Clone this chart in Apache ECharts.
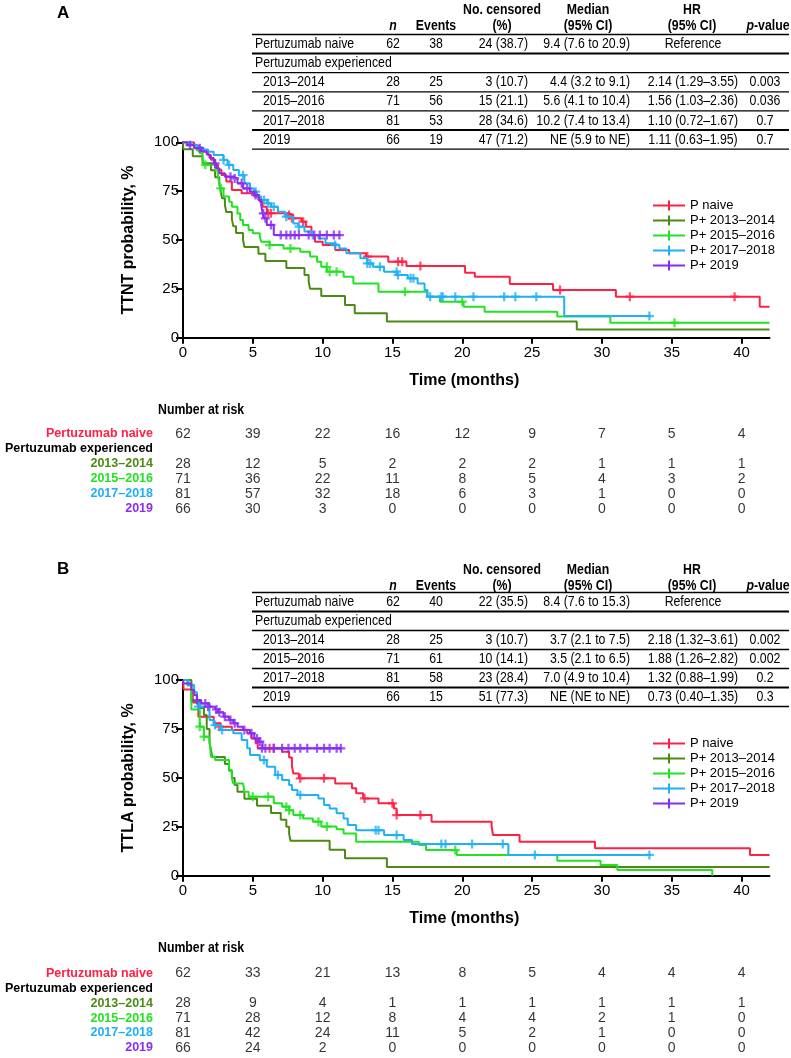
<!DOCTYPE html>
<html><head><meta charset="utf-8">
<script src="https://cdn.jsdelivr.net/npm/echarts@6/dist/echarts.min.js"></script>
<style>html,body{margin:0;padding:0;background:#fff}#c{width:791px;height:1058px}</style>
</head><body><div id="c"></div>
<script>
// ---------- data ----------
const timeTicks = [0, 5, 10, 15, 20, 25, 30, 35, 40];
const probTicks = [0, 25, 50, 75, 100];
const groupNames = ['P naive', 'P+ 2013–2014', 'P+ 2015–2016', 'P+ 2017–2018', 'P+ 2019'];
const groupColors = ['#ff2045', '#4b8b13', '#22e322', '#1fb0f6', '#8a2cf2'];

// Panel A (TTNT) step curves [months, %]
const A_naive = [[0,100],[0.8,98.4],[1.1,96.8],[1.4,95.2],[1.8,93.5],[2.0,91.1],[2.3,88.5],[2.5,85.9],[2.75,83.3],[3.1,80.0],[3.5,75.6],[4.2,73.9],[5.1,72.2],[5.5,69.6],[5.7,67.0],[6.0,63.7],[7.5,62.8],[7.9,61.1],[8.5,59.4],[8.8,56.8],[9.2,52.5],[9.45,49.1],[10.0,47.4],[10.9,44.9],[11.9,43.2],[13.1,41.5],[14.7,38.9],[16.0,36.7],[20.2,33.3],[20.9,31.2],[23.4,27.5],[26.5,24.4],[31.0,21.0],[41.3,15.9],[42,15.9]];
const A_1314 = [[0,100],[0.02,96.4],[0.7,92.9],[1.4,89.3],[2.0,85.7],[2.3,82.1],[2.6,78.6],[2.7,75.0],[2.8,71.4],[3.0,67.9],[3.1,64.3],[3.5,60.7],[3.6,57.1],[3.8,53.6],[4.3,50.0],[4.4,46.4],[5.4,42.9],[5.9,39.3],[7.4,35.7],[8.7,32.1],[9.0,28.6],[9.1,25.0],[9.9,21.4],[11.6,16.7],[12.3,12.5],[14.6,8.3],[28.2,4.2],[42,4.2]];
const A_1516 = [[0,100],[0.4,98.6],[0.8,97.2],[1.0,95.8],[1.2,94.4],[1.4,91.5],[1.5,88.5],[2.3,85.6],[2.5,82.4],[2.6,79.5],[2.7,76.4],[2.9,72.2],[3.3,69.6],[3.5,67.0],[3.9,63.6],[4.1,60.2],[4.3,57.7],[4.7,55.1],[5.0,53.4],[5.5,51.7],[5.6,49.1],[6.2,47.4],[7.2,45.7],[8.4,44.0],[9.1,41.5],[9.6,38.9],[9.9,36.3],[10.3,33.8],[11.5,31.2],[12.2,27.8],[14.0,23.5],[17.5,21.0],[18.4,18.4],[20.1,15.9],[21.6,13.3],[26.8,10.8],[30.6,7.7],[42,7.7]];
const A_1718 = [[0,100],[0.6,98.8],[1.0,97.5],[1.4,96.3],[1.8,95.1],[2.2,93.5],[2.9,91.0],[3.2,88.4],[3.6,85.8],[4.0,83.2],[4.4,79.0],[4.8,76.4],[5.1,74.7],[5.3,72.2],[5.6,70.5],[6.0,68.8],[6.3,67.0],[6.8,64.5],[7.3,61.9],[7.9,58.5],[8.25,56.8],[8.7,54.3],[9.2,52.5],[9.7,50.8],[10.2,48.3],[10.8,47.4],[11.2,45.7],[11.7,43.2],[12.7,40.6],[13.2,38.0],[13.6,36.3],[14.4,33.8],[15.3,32.1],[16.1,30.4],[16.8,27.8],[17.3,24.4],[17.5,21.0],[27.3,11.1],[33.5,11.1]];
const A_2019 = [[0,100],[0.3,98.5],[0.8,97.0],[1.3,95.4],[1.7,93.8],[1.9,92.0],[2.2,89.2],[2.4,86.7],[2.6,84.1],[3.0,82.4],[3.6,81.5],[3.9,79.0],[4.3,76.4],[4.8,74.7],[5.1,73.0],[5.4,70.5],[5.6,67.9],[5.7,63.6],[5.8,61.1],[6.0,57.7],[6.5,52.5],[11.3,52.5]];
// Panel A censor marks
const A_naive_c = [[6.1,63.7],[6.3,63.7],[7.6,62.8],[7.8,61.1],[8.6,59.4],[13.2,41.5],[15.4,38.9],[15.7,38.9],[17.0,36.7],[27.0,24.4],[32.0,21.0],[39.5,21.0]];
const A_1314_c = [];
const A_1516_c = [[1.6,88.5],[2.7,76.4],[6.2,47.4],[7.7,45.7],[10.3,36.3],[10.5,33.8],[11.0,33.8],[15.9,23.5],[20.0,18.4],[35.2,7.7]];
const A_1718_c = [[2.9,91.0],[3.3,88.4],[4.3,83.2],[5.2,74.7],[5.8,70.5],[6.1,68.8],[6.5,67.0],[7.4,61.9],[8.3,56.8],[9.3,52.5],[10.9,47.4],[13.2,38.0],[13.4,38.0],[14.1,36.3],[15.3,33.8],[15.4,32.1],[16.3,30.4],[16.5,30.4],[17.7,21.0],[18.5,21.0],[18.6,21.0],[19.5,21.0],[20.8,21.0],[23.0,21.0],[23.8,21.0],[25.3,21.0],[33.4,11.1]];
const A_2019_c = [[0.5,98.5],[1.2,97.0],[2.3,89.2],[3.4,82.4],[3.7,81.5],[4.2,79.0],[4.6,76.4],[5.2,73.0],[5.75,63.6],[5.9,61.1],[6.3,57.7],[7.0,52.5],[7.4,52.5],[7.7,52.5],[8.0,52.5],[8.3,52.5],[9.0,52.5],[9.4,52.5],[9.8,52.5],[10.3,52.5],[10.8,52.5],[11.2,52.5]];

// Panel B (TTLA) step curves
const B_naive = [[0,100],[0.05,95.2],[0.7,88.6],[1.1,81.3],[2.2,77.9],[2.7,76.2],[3.5,74.5],[4.6,72.8],[4.9,70.2],[5.2,67.7],[5.35,65.1],[7.1,63.4],[7.6,60.4],[7.8,56.0],[7.9,52.3],[8.3,49.8],[10.9,47.2],[12.1,44.7],[12.4,42.1],[12.9,39.5],[14.0,37.0],[15.1,34.4],[15.3,31.0],[17.8,27.6],[22.1,25.1],[22.2,20.8],[24.1,17.4],[29.5,14.0],[40.6,10.6],[42,10.6]];
const B_1314 = [[0,100],[0.6,89.3],[1.2,85.7],[1.5,82.1],[1.7,75.0],[1.9,67.9],[2.0,64.3],[2.1,60.7],[3.0,57.1],[3.3,53.6],[3.5,50.0],[3.7,46.4],[3.9,42.9],[4.4,39.3],[5.3,35.7],[6.3,32.1],[7.0,28.6],[7.4,25.0],[7.6,21.4],[7.7,17.9],[10.5,13.3],[11.6,8.9],[14.6,4.4],[42,4.4]];
const B_1516 = [[0,100],[0.3,97.2],[0.6,85.0],[1.2,76.2],[1.5,71.1],[1.9,69.4],[2.0,60.8],[2.3,59.1],[3.3,54.0],[3.5,49.8],[3.6,47.2],[4.3,46.4],[4.4,42.9],[4.7,40.4],[6.5,37.0],[7.1,35.3],[7.6,33.5],[7.9,31.0],[8.6,29.3],[9.3,27.6],[9.9,25.1],[11.0,23.7],[11.5,21.6],[12.4,17.4],[16.9,15.7],[17.4,13.1],[19.6,10.6],[26.8,7.7],[29.9,5.5],[31.1,2.9],[37.9,0]];
const B_1718 = [[0,100],[0.4,97.5],[0.8,93.8],[1.0,88.1],[1.2,86.4],[1.9,79.6],[2.2,77.0],[2.7,74.5],[3.6,72.8],[4.2,69.4],[4.6,65.1],[4.8,61.7],[5.5,59.1],[6.0,55.7],[6.6,51.5],[7.1,48.9],[7.6,46.4],[7.8,43.8],[8.2,41.3],[9.7,39.5],[10.1,36.1],[10.5,34.4],[11.0,31.9],[11.5,29.3],[11.8,25.9],[12.4,23.3],[14.4,20.8],[15.8,18.2],[16.4,16.2],[23.3,10.6],[33.5,10.6]];
const B_2019 = [[0,100],[0.05,98.3],[0.6,94.9],[0.8,92.4],[1.0,89.8],[1.3,88.1],[1.9,86.4],[2.3,85.0],[2.5,83.5],[2.9,81.3],[3.3,79.6],[3.6,77.9],[3.9,76.2],[4.3,74.5],[4.8,72.8],[5.1,70.2],[5.4,68.5],[5.7,65.1],[11.4,65.1]];
const B_naive_c = [[2.6,76.2],[6.2,65.1],[6.5,65.1],[8.4,49.8],[10.1,49.8],[13.0,39.5],[15.0,37.0],[15.3,31.0],[17.0,31.0]];
const B_1314_c = [];
const B_1516_c = [[1.2,76.2],[1.5,71.1],[5.0,40.4],[6.1,40.4],[7.4,35.3],[7.6,33.5],[8.4,31.0],[9.7,27.6],[10.3,25.1],[19.5,13.1]];
const B_1718_c = [[1.1,86.4],[2.3,77.0],[2.8,74.5],[5.8,59.1],[6.8,51.5],[8.4,41.3],[13.8,23.3],[14.0,23.3],[15.3,20.8],[18.5,16.2],[18.8,16.2],[20.7,16.2],[22.9,16.2],[25.2,10.6],[33.4,10.6]];
const B_2019_c = [[1.0,89.8],[1.6,88.1],[1.8,86.4],[2.4,85.0],[2.6,83.5],[3.0,81.3],[3.4,79.6],[3.7,77.9],[4.4,74.5],[4.9,72.8],[5.3,70.2],[5.5,68.5],[5.65,65.1],[5.9,65.1],[6.5,65.1],[7.1,65.1],[7.55,65.1],[8.0,65.1],[8.4,65.1],[8.9,65.1],[9.6,65.1],[10.1,65.1],[10.5,65.1],[11.0,65.1],[11.3,65.1]];

// Number at risk
const riskRowLabels = ['Pertuzumab naive', 'Pertuzumab experienced', '2013–2014', '2015–2016', '2017–2018', '2019'];
const riskA_naive = [62, 39, 22, 16, 12, 9, 7, 5, 4];
const riskA_1314 = [28, 12, 5, 2, 2, 2, 1, 1, 1];
const riskA_1516 = [71, 36, 22, 11, 8, 5, 4, 3, 2];
const riskA_1718 = [81, 57, 32, 18, 6, 3, 1, 0, 0];
const riskA_2019 = [66, 30, 3, 0, 0, 0, 0, 0, 0];
const riskB_naive = [62, 33, 21, 13, 8, 5, 4, 4, 4];
const riskB_1314 = [28, 9, 4, 1, 1, 1, 1, 1, 1];
const riskB_1516 = [71, 28, 12, 8, 4, 4, 2, 1, 0];
const riskB_1718 = [81, 42, 24, 11, 5, 2, 1, 0, 0];
const riskB_2019 = [66, 24, 2, 0, 0, 0, 0, 0, 0];

// Summary tables
const tableHead1 = ['', '', '', 'No. censored', 'Median', 'HR', ''];
const tableHead2 = ['', 'n', 'Events', '(%)', '(95% CI)', '(95% CI)', 'p-value'];
const tableA = [
  ['Pertuzumab naive', '62', '38', '24 (38.7)', '9.4 (7.6 to 20.9)', 'Reference', ''],
  ['Pertuzumab experienced', '', '', '', '', '', ''],
  ['2013–2014', '28', '25', '3 (10.7)', '4.4 (3.2 to 9.1)', '2.14 (1.29–3.55)', '0.003'],
  ['2015–2016', '71', '56', '15 (21.1)', '5.6 (4.1 to 10.4)', '1.56 (1.03–2.36)', '0.036'],
  ['2017–2018', '81', '53', '28 (34.6)', '10.2 (7.4 to 13.4)', '1.10 (0.72–1.67)', '0.7'],
  ['2019', '66', '19', '47 (71.2)', 'NE (5.9 to NE)', '1.11 (0.63–1.95)', '0.7']
];
const tableB = [
  ['Pertuzumab naive', '62', '40', '22 (35.5)', '8.4 (7.6 to 15.3)', 'Reference', ''],
  ['Pertuzumab experienced', '', '', '', '', '', ''],
  ['2013–2014', '28', '25', '3 (10.7)', '3.7 (2.1 to 7.5)', '2.18 (1.32–3.61)', '0.002'],
  ['2015–2016', '71', '61', '10 (14.1)', '3.5 (2.1 to 6.5)', '1.88 (1.26–2.82)', '0.002'],
  ['2017–2018', '81', '58', '23 (28.4)', '7.0 (4.9 to 10.4)', '1.32 (0.88–1.99)', '0.2'],
  ['2019', '66', '15', '51 (77.3)', 'NE (NE to NE)', '0.73 (0.40–1.35)', '0.3']
];

// ---------- chart ----------
const SANS = '"Liberation Sans", Arial, sans-serif';
const NARROW_SCALE = 0.82;
const PLUS = 'path://M3,0H5V3H8V5H5V8H3V5H0V3H3Z';
const LEGICON = 'path://M0,4H32V6H0Z M15,0H17V10H15Z';

const chart = echarts.init(document.getElementById('c'), null, {renderer: 'canvas'});

const curvesA = [A_naive, A_1314, A_1516, A_1718, A_2019];
const censA = [A_naive_c, A_1314_c, A_1516_c, A_1718_c, A_2019_c];
const curvesB = [B_naive, B_1314, B_1516, B_1718, B_2019];
const censB = [B_naive_c, B_1314_c, B_1516_c, B_1718_c, B_2019_c];
const riskA = [riskA_naive, null, riskA_1314, riskA_1516, riskA_1718, riskA_2019];
const riskB = [riskB_naive, null, riskB_1314, riskB_1516, riskB_1718, riskB_2019];
const rowColors = [groupColors[0], '#000', groupColors[1], groupColors[2], groupColors[3], groupColors[4]];

const PLOT_LEFT = 183, PLOT_W = 586.5;
const grids = [
  {left: PLOT_LEFT, top: 142.3, width: PLOT_W, height: 195.4},
  {left: PLOT_LEFT, top: 426.5, width: PLOT_W, height: 90},
  {left: PLOT_LEFT, top: 680.1, width: PLOT_W, height: 195.6},
  {left: PLOT_LEFT, top: 965.9, width: PLOT_W, height: 89.4}
];

function kmX(gi) {
  return {
    type: 'value', gridIndex: gi, min: 0, max: 42, interval: 5,
    name: 'Time (months)', nameLocation: 'middle', nameGap: 35,
    nameTextStyle: {fontFamily: SANS, fontWeight: 'bold', fontSize: 16, color: '#000', padding: [0, 24, 0, 0]},
    axisLine: {lineStyle: {color: '#000', width: 2}},
    axisTick: {length: 6, lineStyle: {color: '#000', width: 2}, customValues: timeTicks},
    axisLabel: {fontFamily: SANS, fontSize: 15, color: '#000', margin: 8, customValues: timeTicks},
    splitLine: {show: false}
  };
}
function kmY(gi, name) {
  return {
    type: 'value', gridIndex: gi, min: 0, max: 100, interval: 25,
    name: name, nameLocation: 'middle', nameGap: 46,
    nameTextStyle: {fontFamily: SANS, fontWeight: 'bold', fontSize: 16, color: '#000'},
    axisLine: {show: true, lineStyle: {color: '#000', width: 2}},
    axisTick: {show: true, length: 7, lineStyle: {color: '#000', width: 2}, customValues: probTicks},
    axisLabel: {fontFamily: SANS, fontSize: 15, color: '#000', margin: 4, customValues: probTicks},
    splitLine: {show: false}
  };
}
function riskX(gi) {
  return {type: 'value', gridIndex: gi, min: 0, max: 42, show: false};
}
const richRows = {};
rowColors.forEach((c, i) => { richRows['r' + i] = {color: c, fontFamily: SANS, fontWeight: 'bold', fontSize: 12.5}; });
function riskY(gi) {
  return {
    type: 'category', gridIndex: gi, inverse: true, data: riskRowLabels,
    axisLine: {show: false}, axisTick: {show: false}, splitLine: {show: false},
    axisLabel: {
      interval: 0, margin: 30, align: 'right',
      formatter: (v) => '{r' + riskRowLabels.indexOf(v) + '|' + v + '}',
      rich: richRows
    }
  };
}

const series = [];
function addKM(curves, cens, xi, yi) {
  curves.forEach((d, k) => {
    series.push({
      type: 'line', name: groupNames[k], xAxisIndex: xi, yAxisIndex: yi, data: d,
      step: 'end', showSymbol: false, symbol: 'none', color: groupColors[k],
      lineStyle: {width: 2, color: groupColors[k]}, z: 2 + k, animation: false
    });
    series.push({
      type: 'scatter', name: groupNames[k] + ' censored', xAxisIndex: xi, yAxisIndex: yi, data: cens[k],
      symbol: PLUS, symbolSize: 9, itemStyle: {color: groupColors[k]}, z: 2 + k, animation: false
    });
  });
}
function addRisk(risk, xi, yi) {
  risk.forEach((vals, r) => {
    if (!vals) return;
    series.push({
      type: 'scatter', xAxisIndex: xi, yAxisIndex: yi, animation: false,
      data: vals.map((v, k) => [timeTicks[k], riskRowLabels[r], v]),
      symbolSize: 1, itemStyle: {color: 'transparent'},
      label: {show: true, position: 'inside', formatter: (p) => String(p.value[2]),
        fontFamily: SANS, fontSize: 14, color: '#000'}
    });
  });
}
addKM(curvesA, censA, 0, 0);
addRisk(riskA, 1, 1);
addKM(curvesB, censB, 2, 2);
addRisk(riskB, 3, 3);

// table graphics (condensed text via horizontal scale)
const colX = [255, 393, 436, 528, 630, 693, 765];
const colAlign = ['left', 'center', 'center', 'right', 'right', 'center', 'center'];
const headX = [255, 393, 436, 502, 588, 692, 768];
const TABLE_L = 252, TABLE_R = 789;
function ntext(x, y, text, extra) {
  return {type: 'text', x: x, y: y, scaleX: NARROW_SCALE,
    style: Object.assign({text: text, fontFamily: SANS, fontSize: 15, fill: '#000', verticalAlign: 'middle', align: 'left'}, extra || {})};
}
function tableGraphic(rows, yH1, yH2, line0, pitch) {
  const els = [];
  tableHead1.forEach((t, i) => { if (t) els.push(ntext(headX[i], yH1, t, {align: 'center', fontWeight: 'bold'})); });
  tableHead2.forEach((t, i) => {
    if (!t) return;
    const ex = {align: 'center', fontWeight: 'bold'};
    if (t === 'n') ex.fontStyle = 'italic';
    if (t === 'p-value') { ex.text = '{i|p}{b|-value}'; ex.rich = {i: {fontStyle: 'italic', fontWeight: 'bold', fontFamily: SANS, fontSize: 15}, b: {fontWeight: 'bold', fontFamily: SANS, fontSize: 15}}; }
    els.push(ntext(headX[i], yH2, t, ex));
  });
  for (let i = 0; i <= rows.length; i++) {
    const y = line0 + pitch * i;
    els.push({type: 'line', shape: {x1: TABLE_L, y1: y, x2: TABLE_R, y2: y}, style: {stroke: '#000', lineWidth: (i === 1 || i === 5) ? 2 : 1.3}});
  }
  rows.forEach((row, r) => {
    const y = line0 + pitch * r + pitch / 2;
    row.forEach((t, c) => {
      if (!t) return;
      let x = colX[c];
      if (c === 0 && r >= 2) x = 263;
      els.push(ntext(x, y, t, {align: colAlign[c]}));
    });
  });
  return els;
}

const graphics = [].concat(
  [{type: 'text', x: 57, y: 13, style: {text: 'A', fontFamily: SANS, fontWeight: 'bold', fontSize: 17, fill: '#000', verticalAlign: 'middle'}}],
  tableGraphic(tableA, 10, 25.5, 34.5, 19.1),
  [ntext(158, 410, 'Number at risk', {fontWeight: 'bold'})],
  [{type: 'text', x: 57, y: 569, style: {text: 'B', fontFamily: SANS, fontWeight: 'bold', fontSize: 17, fill: '#000', verticalAlign: 'middle'}}],
  tableGraphic(tableB, 570, 585.5, 592.5, 19.0),
  [ntext(158, 948, 'Number at risk', {fontWeight: 'bold'})]
);

function legendAt(top) {
  return {
    data: groupNames, orient: 'vertical', left: 648, top: top, selectedMode: false,
    icon: LEGICON, itemWidth: 32, itemHeight: 10, itemGap: 2,
    textStyle: {fontFamily: SANS, fontSize: 13, color: '#000', lineHeight: 13}
  };
}

chart.setOption({
  animation: false,
  backgroundColor: '#fff',
  grid: grids,
  xAxis: [kmX(0), riskX(1), kmX(2), riskX(3)],
  yAxis: [kmY(0, 'TTNT probability, %'), riskY(1), kmY(2, 'TTLA probability, %'), riskY(3)],
  legend: [legendAt(194), legendAt(732)],
  series: series,
  graphic: graphics
});
</script>
</body></html>
